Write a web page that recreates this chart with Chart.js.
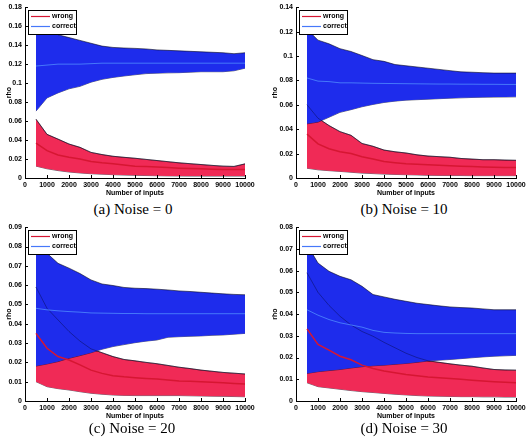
<!DOCTYPE html>
<html>
<head>
<meta charset="utf-8">
<script src="https://cdn.jsdelivr.net/npm/chart.js@4"></script>
<style>
  body { margin: 0; background: #fff; }
  #wrap { position: relative; width: 529px; height: 440px; }
  canvas { position: absolute; }
  .cap { position: absolute; width: 264px; text-align: center; font-family: "Liberation Serif", serif; font-size: 15px; line-height: 17px; color: #000; }
</style>
</head>
<body>
<div id="wrap">
  <canvas id="chartA" width="264" height="200" style="left:0;top:0"></canvas>
  <canvas id="chartB" width="265" height="200" style="left:264px;top:0"></canvas>
  <canvas id="chartC" width="264" height="203" style="left:0;top:220px"></canvas>
  <canvas id="chartD" width="265" height="203" style="left:264px;top:220px"></canvas>
  <div class="cap" style="left:1px;top:201px">(a) Noise = 0</div>
  <div class="cap" style="left:272px;top:201px">(b) Noise = 10</div>
  <div class="cap" style="left:0;top:420px">(c) Noise = 20</div>
  <div class="cap" style="left:272px;top:420px">(d) Noise = 30</div>
</div>
<script>
// number of inputs (x)
const inputs = [500, 1000, 1500, 2000, 2500, 3000, 3500, 4000, 4500, 5000,
                5500, 6000, 6500, 7000, 7500, 8000, 8500, 9000, 9500, 10000];
const xTicks = [0, 1000, 2000, 3000, 4000, 5000, 6000, 7000, 8000, 9000, 10000];
const legendLabels = ['wrong', 'correct'];

// (a) Noise = 0
const wrongHiA = [0.062, 0.046, 0.041, 0.0358, 0.0323, 0.027, 0.0247, 0.0229, 0.0218, 0.0208, 0.0196, 0.0184, 0.0172, 0.016, 0.0151, 0.0142, 0.0133, 0.0125, 0.0122, 0.0149];
const wrongMeanA = [0.0368, 0.0288, 0.0243, 0.0219, 0.02, 0.0174, 0.016, 0.015, 0.0137, 0.0125, 0.012, 0.0115, 0.011, 0.0104, 0.01, 0.0097, 0.0093, 0.009, 0.009, 0.009];
const wrongLoA = [0.0125, 0.0097, 0.0078, 0.0063, 0.0053, 0.0045, 0.004, 0.0035, 0.0031, 0.0028, 0.0026, 0.0024, 0.0022, 0.0021, 0.002, 0.002, 0.002, 0.002, 0.002, 0.002];
const correctHiA = [0.168, 0.156, 0.151, 0.148, 0.145, 0.142, 0.139, 0.1376, 0.137, 0.1366, 0.136, 0.135, 0.1345, 0.134, 0.1335, 0.133, 0.1325, 0.132, 0.131, 0.132];
const correctMeanA = [0.118, 0.119, 0.12, 0.12, 0.12, 0.1205, 0.121, 0.121, 0.121, 0.121, 0.121, 0.121, 0.121, 0.121, 0.121, 0.121, 0.121, 0.121, 0.121, 0.121];
const correctLoA = [0.0705, 0.0844, 0.0897, 0.094, 0.0966, 0.101, 0.104, 0.106, 0.1075, 0.1088, 0.11, 0.1105, 0.1108, 0.111, 0.1115, 0.112, 0.112, 0.112, 0.113, 0.1157];
const yTicksA = [0, 0.02, 0.04, 0.06, 0.08, 0.1, 0.12, 0.14, 0.16, 0.18];

// (b) Noise = 10
const wrongHiB = [0.06, 0.049, 0.043, 0.038, 0.035, 0.0283, 0.026, 0.0229, 0.0215, 0.0205, 0.019, 0.018, 0.0175, 0.017, 0.016, 0.0155, 0.015, 0.015, 0.0147, 0.0145];
const wrongMeanB = [0.036, 0.028, 0.024, 0.0215, 0.02, 0.0175, 0.0155, 0.0135, 0.0125, 0.0116, 0.0112, 0.0108, 0.0104, 0.01, 0.0097, 0.0094, 0.0091, 0.0089, 0.0087, 0.0086];
const wrongLoB = [0.008, 0.0067, 0.006, 0.0054, 0.0047, 0.004, 0.0036, 0.0032, 0.0029, 0.0027, 0.0025, 0.0022, 0.0021, 0.002, 0.002, 0.0019, 0.0019, 0.0019, 0.0019, 0.0019];
const correctHiB = [0.122, 0.113, 0.11, 0.106, 0.1037, 0.1004, 0.097, 0.0956, 0.093, 0.092, 0.091, 0.09, 0.089, 0.088, 0.087, 0.0867, 0.0863, 0.086, 0.086, 0.086];
const correctMeanB = [0.082, 0.0794, 0.079, 0.078, 0.078, 0.0778, 0.0776, 0.0775, 0.0774, 0.0773, 0.0772, 0.0771, 0.077, 0.077, 0.0769, 0.0769, 0.0768, 0.0768, 0.0767, 0.0767];
const correctLoB = [0.0444, 0.0458, 0.0498, 0.0538, 0.056, 0.0584, 0.0603, 0.0619, 0.063, 0.0638, 0.0642, 0.0646, 0.065, 0.0654, 0.0657, 0.066, 0.0662, 0.0663, 0.0664, 0.0665];
const yTicksB = [0, 0.02, 0.04, 0.06, 0.08, 0.1, 0.12, 0.14];

// (c) Noise = 20
const wrongHiC = [0.059, 0.048, 0.042, 0.036, 0.031, 0.027, 0.025, 0.023, 0.0215, 0.0208, 0.02, 0.0193, 0.0184, 0.0175, 0.0168, 0.016, 0.0154, 0.0148, 0.0144, 0.014];
const wrongMeanC = [0.035, 0.0273, 0.023, 0.0212, 0.0187, 0.016, 0.0143, 0.0131, 0.0125, 0.0121, 0.0117, 0.0114, 0.0109, 0.0104, 0.0102, 0.01, 0.0097, 0.0095, 0.0091, 0.0088];
const wrongLoC = [0.01, 0.0074, 0.0064, 0.0057, 0.0048, 0.004, 0.0035, 0.0031, 0.0029, 0.0028, 0.0028, 0.0028, 0.0028, 0.0028, 0.0027, 0.0026, 0.0025, 0.0024, 0.0023, 0.0022];
const correctHiC = [0.083, 0.0765, 0.0713, 0.0688, 0.066, 0.0627, 0.0606, 0.0598, 0.0588, 0.0584, 0.0582, 0.0579, 0.0575, 0.057, 0.0567, 0.0563, 0.0559, 0.0555, 0.0552, 0.055];
const correctMeanC = [0.048, 0.0472, 0.0467, 0.0463, 0.046, 0.0456, 0.0455, 0.0454, 0.0453, 0.0453, 0.0452, 0.0452, 0.0452, 0.0452, 0.0452, 0.0452, 0.0452, 0.0452, 0.0452, 0.0452];
const correctLoC = [0.0181, 0.0192, 0.0204, 0.0221, 0.0235, 0.025, 0.0268, 0.0282, 0.0292, 0.0302, 0.031, 0.0316, 0.033, 0.0333, 0.0335, 0.0337, 0.034, 0.0342, 0.0346, 0.035];
const yTicksC = [0, 0.01, 0.02, 0.03, 0.04, 0.05, 0.06, 0.07, 0.08, 0.09];

// (d) Noise = 30
const wrongHiD = [0.059, 0.05, 0.044, 0.039, 0.035, 0.032, 0.0298, 0.027, 0.0245, 0.022, 0.02, 0.0185, 0.0178, 0.0171, 0.0165, 0.016, 0.0152, 0.0145, 0.0143, 0.0142];
const wrongMeanD = [0.0332, 0.026, 0.0234, 0.0206, 0.019, 0.0165, 0.015, 0.0138, 0.013, 0.0122, 0.0116, 0.011, 0.0107, 0.0104, 0.01, 0.0096, 0.0092, 0.0089, 0.0086, 0.0084];
const wrongLoD = [0.0084, 0.0066, 0.006, 0.0054, 0.0048, 0.0043, 0.0039, 0.0035, 0.0031, 0.0028, 0.0025, 0.0023, 0.0022, 0.0021, 0.002, 0.002, 0.0019, 0.0019, 0.0018, 0.0018];
const correctHiD = [0.072, 0.0635, 0.0597, 0.0574, 0.0558, 0.0528, 0.049, 0.0479, 0.0468, 0.0459, 0.045, 0.0444, 0.0438, 0.0433, 0.043, 0.0428, 0.0424, 0.042, 0.042, 0.042];
const correctMeanD = [0.042, 0.0395, 0.0375, 0.036, 0.035, 0.034, 0.0325, 0.0316, 0.0313, 0.0311, 0.031, 0.031, 0.031, 0.031, 0.031, 0.031, 0.031, 0.031, 0.031, 0.031];
const correctLoD = [0.0127, 0.0135, 0.014, 0.0145, 0.0152, 0.0158, 0.0162, 0.0165, 0.0169, 0.0173, 0.0178, 0.0184, 0.0188, 0.0191, 0.0195, 0.0199, 0.0203, 0.0206, 0.0208, 0.021];
const yTicksD = [0, 0.01, 0.02, 0.03, 0.04, 0.05, 0.06, 0.07, 0.08];

const tickFont = { family: 'Liberation Sans', size: 7, weight: 'bold' };
const RED = 'rgb(240,42,86)';
const BLUE = 'rgb(30,44,236)';
const EDGE = 'rgba(10,10,30,0.75)';

function pts(ys) {
    return inputs.map((x, i) => ({ x: x, y: ys[i] }));
}

// small boxed legend in the upper left corner of the plot
const boxLegend = {
    id: 'boxLegend',
    afterDraw(chart) {
        const { ctx, chartArea } = chart;
        const x = Math.round(chartArea.left) + 3, y = Math.round(chartArea.top) + 3;
        ctx.save();
        ctx.fillStyle = '#fff';
        ctx.fillRect(x, y, 48, 24);
        ctx.strokeStyle = '#000';
        ctx.lineWidth = 1;
        ctx.strokeRect(x + 0.5, y + 0.5, 48, 24);
        ctx.font = 'bold 7px "Liberation Sans"';
        ctx.textBaseline = 'middle';
        legendLabels.forEach((lab, i) => {
            const ly = y + 6.5 + i * 10;
            ctx.strokeStyle = chart.data.datasets[i].borderColor;
            ctx.lineWidth = 1.2;
            ctx.beginPath();
            ctx.moveTo(x + 3, ly);
            ctx.lineTo(x + 22, ly);
            ctx.stroke();
            ctx.fillStyle = '#000';
            ctx.fillText(lab, x + 24, ly);
        });
        ctx.restore();
    }
};

// matlab style ticks pointing into the plot
const inTicks = {
    id: 'inTicks',
    afterDatasetsDraw(chart) {
        const { ctx, chartArea, scales } = chart;
        ctx.save();
        ctx.strokeStyle = '#000';
        ctx.lineWidth = 1;
        ctx.beginPath();
        scales.x.ticks.forEach(t => {
            const px = Math.round(scales.x.getPixelForValue(t.value)) + 0.5;
            ctx.moveTo(px, chartArea.bottom);
            ctx.lineTo(px, chartArea.bottom - 3);
        });
        scales.y.ticks.forEach(t => {
            const py = Math.round(scales.y.getPixelForValue(t.value)) + 0.5;
            ctx.moveTo(chartArea.left, py);
            ctx.lineTo(chartArea.left + 3, py);
        });
        ctx.stroke();
        ctx.restore();
    }
};

function makeChart(id, p) {
    // datasets listed top-most first (Chart.js draws index 0 last)
    const datasets = [
        { label: 'wrong', data: pts(p.wMean), borderColor: 'rgb(214,22,50)', borderWidth: 1.5 },
        { label: 'correct', data: pts(p.cMean), borderColor: 'rgb(70,120,250)', borderWidth: 1 },
        { label: 'wrong edge', data: pts(p.wHi), borderColor: 'rgba(0,0,30,0.45)', borderWidth: 0.8 },
        { label: 'correct hi', data: pts(p.cHi), borderColor: EDGE, borderWidth: 0.8, fill: '+1', backgroundColor: BLUE },
        { label: 'correct lo', data: pts(p.cLo), borderColor: EDGE, borderWidth: 0.8 },
        { label: 'wrong hi', data: pts(p.wHi), borderColor: EDGE, borderWidth: 0.8, fill: '+1', backgroundColor: RED },
        { label: 'wrong lo', data: pts(p.wLo), borderColor: EDGE, borderWidth: 0.8 }
    ];
    datasets.forEach(ds => { ds.pointRadius = 0; ds.tension = 0; if (!ds.fill) ds.fill = false; });

    new Chart(document.getElementById(id), {
        type: 'line',
        data: { datasets: datasets },
        options: {
            responsive: false,
            animation: false,
            layout: { padding: { top: p.top, right: p.right, left: 0, bottom: 0 } },
            plugins: { legend: { display: false }, tooltip: { enabled: false } },
            scales: {
                x: {
                    type: 'linear', min: 0, max: 10000,
                    afterBuildTicks: s => { s.ticks = xTicks.map(v => ({ value: v })); },
                    afterFit: s => { s.height = 22; },
                    ticks: { font: tickFont, color: '#000', padding: 3, maxRotation: 0, autoSkip: false, callback: v => String(v) },
                    grid: { display: false, drawTicks: false },
                    border: { display: true, color: '#000', width: 1 },
                    title: { display: true, text: 'Number of inputs', font: tickFont, color: '#000', padding: { top: 0, bottom: 3 } }
                },
                y: {
                    min: 0, max: p.yTicks[p.yTicks.length - 1],
                    afterBuildTicks: s => { s.ticks = p.yTicks.map(v => ({ value: v })); },
                    afterFit: s => { s.width = p.yWidth; },
                    ticks: { font: tickFont, color: '#000', padding: 3, autoSkip: false, callback: v => String(+v.toFixed(3)) },
                    grid: { display: false, drawTicks: false },
                    border: { display: true, color: '#000', width: 1 },
                    title: { display: true, text: 'rho', font: tickFont, color: '#000', padding: { top: p.rhoPad, bottom: 0 } }
                }
            }
        },
        plugins: [inTicks, boxLegend]
    });
}

makeChart('chartA', { wHi: wrongHiA, wMean: wrongMeanA, wLo: wrongLoA, cHi: correctHiA, cMean: correctMeanA, cLo: correctLoA,
    yTicks: yTicksA, top: 5, right: 19, yWidth: 25, rhoPad: 5 });
makeChart('chartB', { wHi: wrongHiB, wMean: wrongMeanB, wLo: wrongLoB, cHi: correctHiB, cMean: correctMeanB, cLo: correctLoB,
    yTicks: yTicksB, top: 5, right: 13, yWidth: 32, rhoPad: 7 });
makeChart('chartC', { wHi: wrongHiC, wMean: wrongMeanC, wLo: wrongLoC, cHi: correctHiC, cMean: correctMeanC, cLo: correctLoC,
    yTicks: yTicksC, top: 7, right: 19, yWidth: 25, rhoPad: 5 });
makeChart('chartD', { wHi: wrongHiD, wMean: wrongMeanD, wLo: wrongLoD, cHi: correctHiD, cMean: correctMeanD, cLo: correctLoD,
    yTicks: yTicksD, top: 7, right: 13, yWidth: 32, rhoPad: 7 });
</script>
</body>
</html>
